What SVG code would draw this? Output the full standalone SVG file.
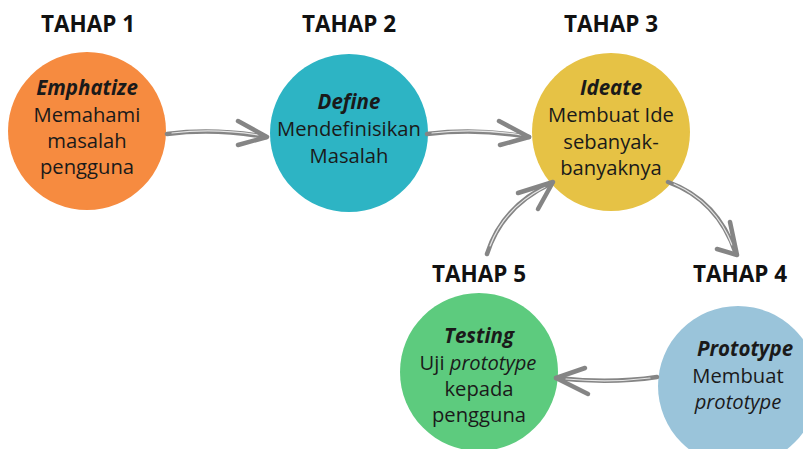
<svg xmlns="http://www.w3.org/2000/svg" width="803" height="449" viewBox="0 0 803 449">
<style>
.tahap{font-family:"Open Sans","Liberation Sans",sans-serif;font-weight:700;font-size:22.5px;fill:#111;text-anchor:middle}
.t{font-family:"Open Sans","Liberation Sans",sans-serif;font-size:20.2px;fill:#1a1a1a;text-anchor:middle}
.h{font-weight:700;font-style:italic;font-size:20.5px}
.i{font-style:italic}
.sh{fill:none;stroke:#858585;stroke-width:4.5;stroke-linecap:round;stroke-linejoin:round}
.hl{fill:none;stroke:#e6e6e6;stroke-width:1.2;stroke-linecap:round}
</style>
<rect width="803" height="449" fill="#fff"/>
<g id="node1">
<text class="tahap" x="88" y="32">TAHAP 1</text>
<circle cx="87" cy="131" r="79" fill="#F68B40"/>
<text class="t" x="87"><tspan class="h" x="87" y="95">Emphatize</tspan><tspan x="87" y="122">Memahami</tspan><tspan x="87" y="148">masalah</tspan><tspan x="87" y="174">pengguna</tspan></text>
</g>
<g id="node2">
<text class="tahap" x="349" y="32">TAHAP 2</text>
<circle cx="349" cy="133" r="79" fill="#2DB4C4"/>
<text class="t"><tspan class="h" x="349" y="109">Define</tspan><tspan x="349" y="136">Mendefinisikan</tspan><tspan x="349" y="163">Masalah</tspan></text>
</g>
<g id="node3">
<text class="tahap" x="611" y="32">TAHAP 3</text>
<circle cx="611" cy="132" r="79" fill="#E6C245"/>
<text class="t"><tspan class="h" x="611" y="95">Ideate</tspan><tspan x="611" y="122">Membuat Ide</tspan><tspan x="611" y="149">sebanyak-</tspan><tspan x="611" y="175">banyaknya</tspan></text>
</g>
<g id="node4">
<text class="tahap" x="740" y="282">TAHAP 4</text>
<circle cx="738" cy="386" r="80" fill="#9AC4DA"/>
<text class="t"><tspan class="h" x="745" y="356">Prototype</tspan><tspan x="738" y="383">Membuat</tspan><tspan class="i" x="738" y="409">prototype</tspan></text>
</g>
<g id="node5">
<text class="tahap" x="479" y="282">TAHAP 5</text>
<circle cx="479" cy="372" r="79" fill="#5DCB7E"/>
<text class="t"><tspan class="h" x="479" y="343">Testing</tspan><tspan x="478" y="370">Uji <tspan class="i">prototype</tspan></tspan><tspan x="479" y="396">kepada</tspan><tspan x="479" y="422">pengguna</tspan></text>
</g>
<g id="connectors">
<g>
<path class="sh" d="M167 134 Q215 128 266 137"/>
<path class="hl" d="M172 133 Q215 128 258 135"/>
<path class="sh" d="M238 121 L267 137 L238 145"/>
</g>
<g>
<path class="sh" d="M427 134 Q478 128 529 137"/>
<path class="hl" d="M432 133 Q478 128 521 135"/>
<path class="sh" d="M499 121 L529 137 L500 145"/>
</g>
<g>
<path class="sh" d="M487 254 Q502 206 552 183"/>
<path class="hl" d="M490 246 Q504 208 545 187"/>
<path class="sh" d="M518 193 L553 182 L538 209"/>
</g>
<g>
<path class="sh" d="M668 182 Q718 200 736 254"/>
<path class="hl" d="M674 184 Q716 203 732 245"/>
<path class="sh" d="M730 222 L737 255 L717 249"/>
</g>
<g>
<path class="sh" d="M657 377 Q610 384 556 378"/>
<path class="hl" d="M650 378 Q610 383 566 379"/>
<path class="sh" d="M585 368 L556 378 L588 394"/>
</g>
</g>
</svg>
